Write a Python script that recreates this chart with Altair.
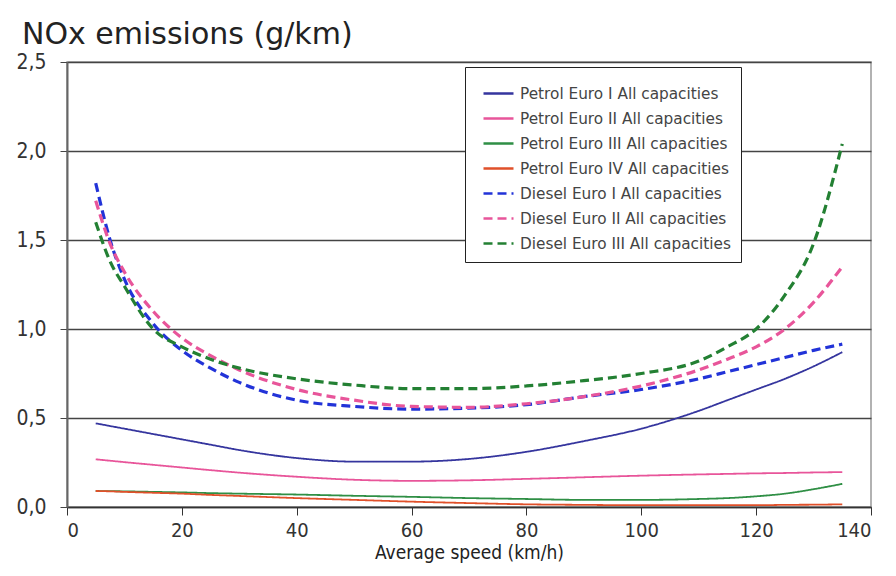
import altair as alt
import pandas as pd

speeds = [5, 7.5, 10, 15, 20, 25, 30, 40, 50, 60, 70, 80, 90, 100, 110, 115, 120, 125, 130, 135]

series_names = [
    "Petrol Euro I All capacities",
    "Petrol Euro II All capacities",
    "Petrol Euro III All capacities",
    "Petrol Euro IV All capacities",
    "Diesel Euro I All capacities",
    "Diesel Euro II All capacities",
    "Diesel Euro III All capacities",
]

petrol_euro_1 = [0.47, 0.455, 0.44, 0.41, 0.38, 0.35, 0.32, 0.275, 0.255, 0.255, 0.27, 0.31, 0.37, 0.44, 0.54, 0.60, 0.66, 0.72, 0.79, 0.87]
petrol_euro_2 = [0.268, 0.26, 0.252, 0.237, 0.222, 0.207, 0.193, 0.17, 0.153, 0.147, 0.15, 0.158, 0.167, 0.176, 0.183, 0.186, 0.189, 0.191, 0.194, 0.196]
petrol_euro_3 = [0.09, 0.089, 0.088, 0.085, 0.082, 0.078, 0.075, 0.07, 0.063, 0.057, 0.05, 0.045, 0.04, 0.04, 0.045, 0.05, 0.06, 0.075, 0.1, 0.13]
petrol_euro_4 = [0.09, 0.088, 0.085, 0.08, 0.075, 0.068, 0.062, 0.05, 0.04, 0.03, 0.022, 0.015, 0.012, 0.01, 0.01, 0.01, 0.01, 0.012, 0.013, 0.015]
diesel_euro_1 = [1.82, 1.5, 1.28, 1.03, 0.88, 0.78, 0.7, 0.6, 0.565, 0.55, 0.555, 0.575, 0.62, 0.66, 0.72, 0.76, 0.8, 0.84, 0.88, 0.915]
diesel_euro_2 = [1.72, 1.48, 1.32, 1.1, 0.95, 0.85, 0.77, 0.66, 0.6, 0.565, 0.56, 0.58, 0.62, 0.68, 0.77, 0.83, 0.9, 1.0, 1.15, 1.35]
diesel_euro_3 = [1.6, 1.38, 1.24, 1.0, 0.9, 0.83, 0.78, 0.72, 0.685, 0.665, 0.665, 0.68, 0.71, 0.75, 0.82, 0.9, 1.0, 1.19, 1.48, 2.04]

series_values = [petrol_euro_1, petrol_euro_2, petrol_euro_3, petrol_euro_4,
                 diesel_euro_1, diesel_euro_2, diesel_euro_3]

colors = ["#35359e", "#e8559a", "#2f8f45", "#e0502a", "#2233d8", "#e8559a", "#238033"]
dashes = [[1, 0], [1, 0], [1, 0], [1, 0], [9, 5], [9, 5], [9, 5]]
widths = [1.8, 1.8, 1.8, 1.8, 3.2, 3.2, 3.2]

x_ticks = [0, 20, 40, 60, 80, 100, 120, 140]
y_ticks = [0, 0.5, 1.0, 1.5, 2.0, 2.5]

rows = []
for name, vals, w in zip(series_names, series_values, widths):
    for s, v in zip(speeds, vals):
        rows.append({"speed": s, "nox": v, "series": name, "w": w})
df = pd.DataFrame(rows)

font = "DejaVu Sans"
cfont = "DejaVu Sans Condensed"

chart = alt.Chart(df).mark_line(interpolate="monotone").encode(
    x=alt.X("speed:Q", scale=alt.Scale(domain=[0, 140]),
            axis=alt.Axis(values=x_ticks, title="Average speed (km/h)", grid=False,
                          tickSize=8, tickColor="#333", domainColor="#333", domainWidth=1.5,
                          labelFontSize=20, labelColor="#333", labelPadding=5,
                          titleFontSize=19, titleColor="#222", titleFontWeight="normal",
                          titlePadding=3, labelFont=cfont, titleFont=cfont)),
    y=alt.Y("nox:Q", scale=alt.Scale(domain=[0, 2.5]),
            axis=alt.Axis(values=y_ticks, title=None, grid=True, gridColor="#444", gridWidth=1.6,
                          gridOpacity=1, tickSize=7, tickColor="#444", domainColor="#666",
                          domainWidth=2, labelFontSize=21, labelColor="#333", labelFont=cfont,
                          labelPadding=14,
                          labelExpr="replace(format(datum.value, '.1f'), '.', ',')")),
    color=alt.Color("series:N", sort=series_names,
                    scale=alt.Scale(domain=series_names, range=colors), title=None),
    strokeDash=alt.StrokeDash("series:N", sort=series_names,
                              scale=alt.Scale(domain=series_names, range=dashes), title=None),
    strokeWidth=alt.StrokeWidth("w:Q", scale=None),
).properties(
    width=804, height=445,
    title=alt.TitleParams("NOx emissions (g/km)", anchor="start", fontSize=30, font=font,
                          fontWeight="normal", color="#222", dx=6, offset=1),
    padding={"left": 59, "top": 54, "right": 9, "bottom": 61},
    autosize=alt.AutoSizeParams(type="none"),
).configure_view(
    stroke="#999", strokeWidth=1.5
).configure_legend(
    orient="none", legendX=398, legendY=5, strokeColor="#222", fillColor="white",
    padding=10, symbolType="stroke", symbolSize=900, symbolOffset=7, labelFontSize=15.3,
    labelColor="#444", labelFont=font, rowPadding=0, labelLimit=400, symbolStrokeWidth=2.5,
    labelOffset=5
)

chart.save("out.html", embed_options={"renderer": "svg", "actions": False})
